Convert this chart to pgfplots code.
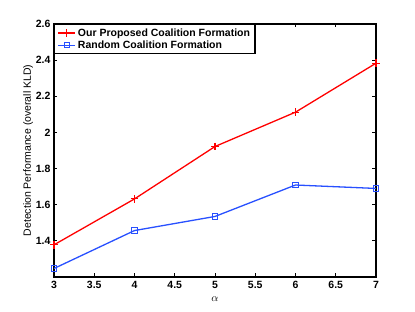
\documentclass[border=0pt]{standalone}
\usepackage{fontspec}
\setmainfont{Liberation Sans}
\setsansfont{Liberation Sans}
\usepackage{pgfplots}
\pgfplotsset{compat=1.18}
\definecolor{myred}{RGB}{255,0,0}
\definecolor{myblue}{RGB}{40,80,255}
\begin{document}
\begin{tikzpicture}[x=1pt,y=1pt]
\path[use as bounding box] (-54,-35) rectangle (361,277);
\begin{axis}[
  at={(0,0)}, anchor=south west,
  scale only axis, width=322pt, height=253pt,
  xmin=3, xmax=7, ymin=1.2, ymax=2.6,
  xtick={3,3.5,...,7}, ytick={1.4,1.6,...,2.6},
  tick align=inside, major tick length=3.5pt,
  axis line style={line width=1.2pt},
  every tick/.style={black, line width=0.9pt},
  /pgf/number format/assume math mode=true,
  tick label style={font=\fontsize{10.5}{12}\selectfont\bfseries},
  xticklabel style={yshift=-1pt},
  y tick label style={/pgf/number format/.cd, fixed, precision=1},
  xlabel={$\alpha$}, xlabel style={font=\fontsize{10.5}{12}\selectfont, yshift=-1pt},
  ylabel={Detection Performance (overall KLD)},
  ylabel style={font=\fontsize{10.5}{12}\selectfont, yshift=-4pt},
  legend style={at={(0,1)}, anchor=north west, draw=black, line width=1.2pt,
    font=\fontsize{10.5}{12}\selectfont\bfseries, inner xsep=3pt, inner ysep=2pt, row sep=-1pt,
    cells={anchor=west}},
  legend cell align=left,
]
\addplot[myred, line width=1.3pt, mark=+, mark size=3.8pt, mark options={line width=1.1pt}]
  coordinates {(3,1.378) (4,1.632) (5,1.922) (6,2.112) (7,2.383)};
\addlegendentry{Our Proposed Coalition Formation}
\addplot[myblue, line width=1.3pt, mark=square, mark size=2.6pt, mark options={line width=1pt}]
  coordinates {(3,1.247) (4,1.457) (5,1.535) (6,1.709) (7,1.69)};
\addlegendentry{Random Coalition Formation}
\end{axis}
\end{tikzpicture}
\end{document}
